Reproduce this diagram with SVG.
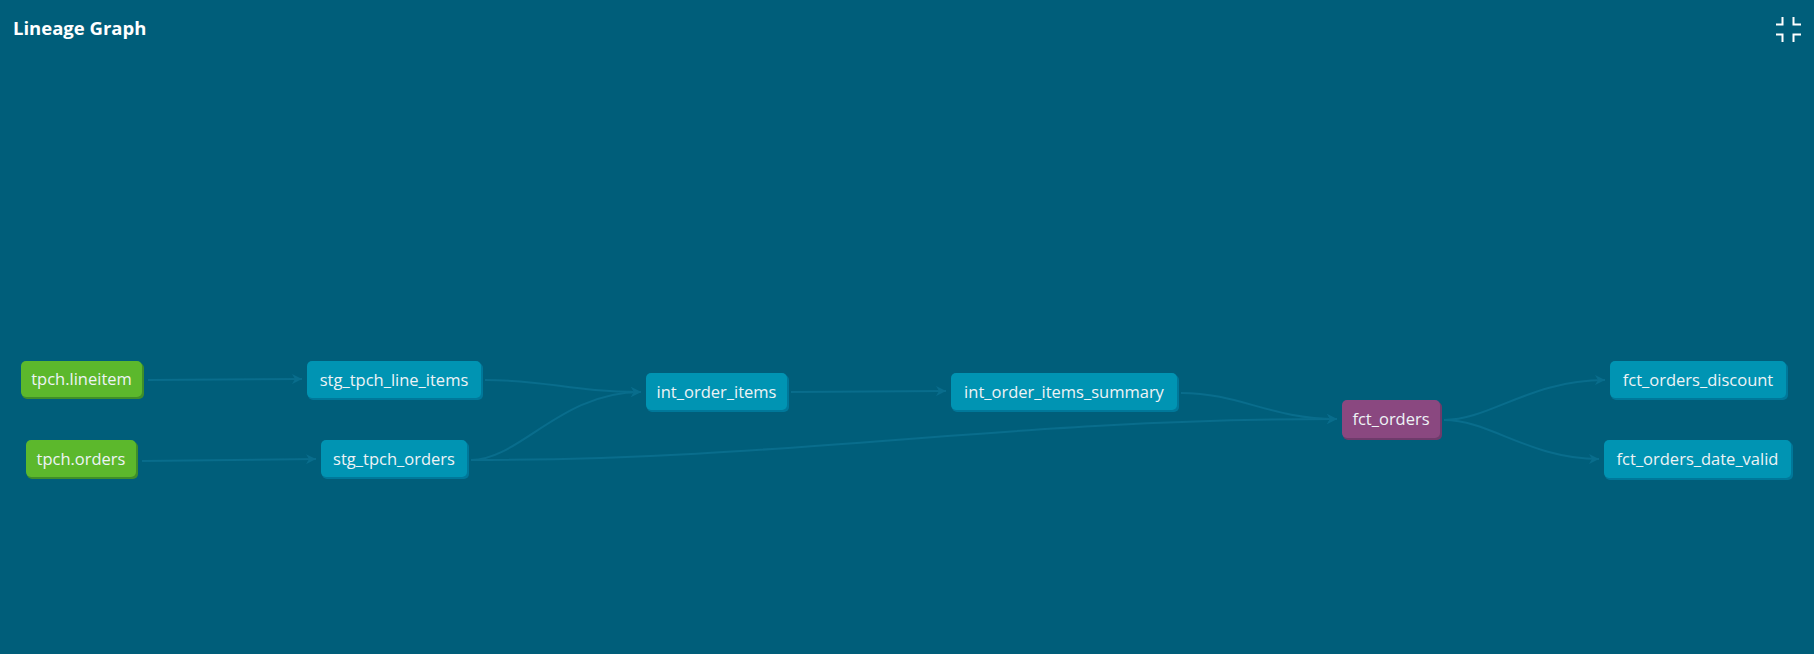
<svg xmlns="http://www.w3.org/2000/svg" width="1814" height="654" viewBox="0 0 1814 654">
<defs>
<style>
.bg{fill:#005e7a}
.title{font-family:"Open Sans","Liberation Sans",sans-serif;font-weight:bold;font-size:18.5px;fill:#ffffff}
.lbl{font-family:"Open Sans","Liberation Sans",sans-serif;font-size:16.5px;fill:#eef3f6;text-anchor:middle}
.src rect.m{fill:#5cb82c}
.src rect.s{fill:#3f8e2a}
.mdl rect.m{fill:#0094b3}
.mdl rect.s{fill:#00789a}
.sel rect.m{fill:#8a4880}
.sel rect.s{fill:#6e3b6b}
.edge{fill:none;stroke:#096d8c;stroke-width:2}
.icon{fill:none;stroke:#ffffff;stroke-width:2}
</style>
<marker id="arr" viewBox="0 0 10 10" refX="10" refY="5" markerWidth="10" markerHeight="10" markerUnits="userSpaceOnUse" orient="auto">
<path d="M0,0 L10,5 L0,10 L3,5 Z" fill="#096d8c"/>
</marker>
</defs>
<rect class="bg" x="0" y="0" width="1814" height="654"/>
<text class="title" x="13" y="35">Lineage Graph</text>
<g id="collapse-icon" class="icon">
<path d="M1776,24.5 H1782.5 V17"/>
<path d="M1801,24.5 H1793.5 V17"/>
<path d="M1776,34.5 H1782.5 V42"/>
<path d="M1801,34.5 H1793.5 V42"/>
</g>
<g id="connectors">
<path class="edge" marker-end="url(#arr)" d="M148,380 L302,379"/>
<path class="edge" marker-end="url(#arr)" d="M142,461 L316,459"/>
<path class="edge" marker-end="url(#arr)" d="M485,380 C550,380 570,392 641,392"/>
<path class="edge" marker-end="url(#arr)" d="M471,460 C520,460 560,392 641,392"/>
<path class="edge" marker-end="url(#arr)" d="M791,392 L946,391"/>
<path class="edge" marker-end="url(#arr)" d="M1181,393 C1240,393 1270,419 1337,419"/>
<path class="edge" marker-end="url(#arr)" d="M471,460 C800,460 1000,419 1337,419"/>
<path class="edge" marker-end="url(#arr)" d="M1444,420 C1490,420 1530,380 1605,380"/>
<path class="edge" marker-end="url(#arr)" d="M1444,420 C1490,420 1530,459 1599,459"/>
</g>
<g id="tpch.lineitem" class="src">
<rect class="s" x="22" y="363" width="122" height="36" rx="5"/>
<rect class="m" x="21" y="361" width="121" height="36" rx="5"/>
<text class="lbl" x="81.5" y="385">tpch.lineitem</text>
</g>
<g id="tpch.orders" class="src">
<rect class="s" x="27" y="442" width="111" height="37" rx="5"/>
<rect class="m" x="26" y="440" width="110" height="37" rx="5"/>
<text class="lbl" x="81" y="464.5">tpch.orders</text>
</g>
<g id="stg_tpch_line_items" class="mdl">
<rect class="s" x="308" y="363" width="175" height="37" rx="5"/>
<rect class="m" x="307" y="361" width="174" height="37" rx="5"/>
<text class="lbl" x="394" y="385.5">stg_tpch_line_items</text>
</g>
<g id="stg_tpch_orders" class="mdl">
<rect class="s" x="322" y="442" width="147" height="37" rx="5"/>
<rect class="m" x="321" y="440" width="146" height="37" rx="5"/>
<text class="lbl" x="394" y="464.5">stg_tpch_orders</text>
</g>
<g id="int_order_items" class="mdl">
<rect class="s" x="647" y="375" width="142" height="37" rx="5"/>
<rect class="m" x="646" y="373" width="141" height="37" rx="5"/>
<text class="lbl" x="716.5" y="397.5">int_order_items</text>
</g>
<g id="int_order_items_summary" class="mdl">
<rect class="s" x="952" y="375" width="227" height="37" rx="5"/>
<rect class="m" x="951" y="373" width="226" height="37" rx="5"/>
<text class="lbl" x="1064" y="397.5">int_order_items_summary</text>
</g>
<g id="fct_orders" class="sel">
<rect class="s" x="1343" y="402" width="99" height="38" rx="5"/>
<rect class="m" x="1342" y="400" width="98" height="38" rx="5"/>
<text class="lbl" x="1391" y="425">fct_orders</text>
</g>
<g id="fct_orders_discount" class="mdl">
<rect class="s" x="1611" y="363" width="177" height="37" rx="5"/>
<rect class="m" x="1610" y="361" width="176" height="37" rx="5"/>
<text class="lbl" x="1698" y="385.5">fct_orders_discount</text>
</g>
<g id="fct_orders_date_valid" class="mdl">
<rect class="s" x="1605" y="442" width="188" height="38" rx="5"/>
<rect class="m" x="1604" y="440" width="187" height="38" rx="5"/>
<text class="lbl" x="1697.5" y="465">fct_orders_date_valid</text>
</g>
</svg>
